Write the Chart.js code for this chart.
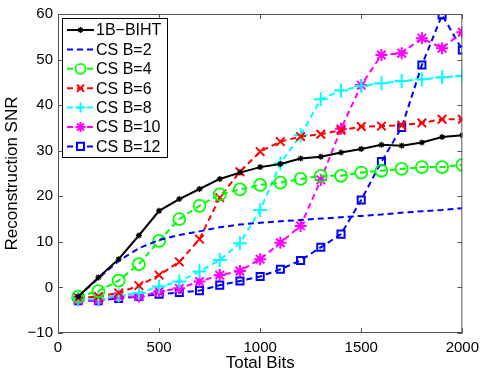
<!DOCTYPE html>
<html>
<head>
<meta charset="utf-8">
<script src="https://cdn.jsdelivr.net/npm/chart.js@4.4.0/dist/chart.umd.min.js"></script>
<style>
  html, body { margin: 0; padding: 0; background: #fff; }
  #wrap { width: 485px; height: 375px; }
</style>
</head>
<body>
<div id="wrap"><canvas id="myChart" width="485" height="375"></canvas></div>
<script>
const totalBits = [100, 200, 300, 400, 500, 600, 700, 800, 900, 1000, 1100, 1200, 1300, 1400, 1500, 1600, 1700, 1800, 1900, 2000];

const biht1b = [-2, 2.2, 6.2, 11.4, 16.8, 19.4, 21.6, 23.8, 25.2, 26.4, 27.1, 28.3, 28.7, 29.6, 30.4, 31.3, 31.1, 31.8, 33.0, 33.4];
const csB2 = [-2, 2, 5.8, 8.6, 10.4, 11.5, 12.3, 13.2, 13.8, 14.2, 14.5, 14.8, 15.1, 15.4, 15.7, 16.0, 16.4, 16.7, 17.0, 17.4];
const csB4 = [-2, -0.8, 1.5, 5.1, 10.2, 15.0, 17.9, 20.4, 21.5, 22.5, 23.0, 23.8, 24.5, 24.5, 25.2, 25.6, 26.0, 26.4, 26.4, 26.9];
const csB6 = [-2.3, -2.0, -1.2, 0.4, 2.7, 5.6, 10.6, 19.7, 25.4, 29.8, 32.0, 33.1, 33.6, 34.5, 35.3, 35.4, 35.6, 36.1, 36.9, 36.9];
const csB8 = [-2.5, -2.5, -1.7, -1.2, 0.2, 1.3, 3.5, 6.0, 9.7, 17.0, 27.2, 33.4, 41.3, 43.2, 44.2, 44.8, 45.3, 45.7, 46.1, 46.4];
const csB10 = [-2.8, -2.8, -2.0, -2.0, -0.9, -0.2, 1.3, 2.7, 3.6, 6.2, 9.8, 13.5, 23.6, 34.8, 44.4, 51.0, 51.4, 54.7, 52.5, 56.0];
const csB12 = [-2.9, -2.9, -2.4, -2.0, -1.5, -1.1, -0.7, 0.5, 1.4, 2.4, 4.0, 5.9, 8.8, 11.7, 19.2, 27.6, 35.1, 48.8, 59.8, 52.1];

const seriesNames = ["1B\u2212BIHT", "CS B=2", "CS B=4", "CS B=6", "CS B=8", "CS B=10", "CS B=12"];
const xTicks = [0, 500, 1000, 1500, 2000];
const yTicks = [-10, 0, 10, 20, 30, 40, 50, 60];

const FONT = "'Liberation Sans', Arial, sans-serif";
const dash = [6, 4];

const mk = (name, values, color, style, radius, dashed, width) => ({
    label: name,
    data: totalBits.map((x, i) => ({ x: x, y: values[i] })),
    borderColor: color,
    backgroundColor: color,
    borderWidth: 2,
    borderDash: dashed ? dash : [],
    pointStyle: style,
    pointRadius: radius,
    pointBorderColor: color,
    pointBackgroundColor: "rgba(0,0,0,0)",
    pointBorderWidth: width,
    tension: 0,
});

const datasets = [
    mk(seriesNames[0], biht1b, "#000000", "star", 3, false, 1.3),
    mk(seriesNames[1], csB2, "#0000ff", "circle", 0, true, 1),
    mk(seriesNames[2], csB4, "#00ff00", "circle", 6, true, 1.8),
    mk(seriesNames[3], csB6, "#ff0000", "crossRot", 6, true, 2),
    mk(seriesNames[4], csB8, "#00ffff", "cross", 7, true, 2),
    mk(seriesNames[5], csB10, "#ff00ff", "star", 6, true, 2),
    mk(seriesNames[6], csB12, "#0000ff", "rect", 5, true, 2),
];

// inward tick marks, box, and the legend drawn inside the plot
const matlabAxes = {
    id: "matlabAxes",
    afterDraw(chart) {
        const ctx = chart.ctx;
        const a = chart.chartArea;
        const xs = chart.scales.x, ys = chart.scales.y;
        ctx.save();
        ctx.strokeStyle = "#555";
        ctx.lineWidth = 1;
        ctx.strokeRect(a.left + 0.5, a.top + 0.5, a.right - a.left - 1, a.bottom - a.top - 1);
        ctx.beginPath();
        xTicks.forEach(v => {
            const px = Math.round(xs.getPixelForValue(v)) + 0.5;
            ctx.moveTo(px, a.bottom); ctx.lineTo(px, a.bottom - 5);
            ctx.moveTo(px, a.top); ctx.lineTo(px, a.top + 5);
        });
        yTicks.forEach(v => {
            const py = Math.round(ys.getPixelForValue(v)) + 0.5;
            ctx.moveTo(a.left, py); ctx.lineTo(a.left + 5, py);
            ctx.moveTo(a.right, py); ctx.lineTo(a.right - 5, py);
        });
        ctx.stroke();

        // legend
        const bx = 62.5, by = 18.5, bw = 105, bh = 139;
        ctx.fillStyle = "#fff";
        ctx.fillRect(bx, by, bw, bh);
        ctx.strokeStyle = "#000";
        ctx.strokeRect(bx, by, bw, bh);
        ctx.font = "16px " + FONT;
        ctx.textBaseline = "middle";
        chart.data.datasets.forEach((ds, i) => {
            const y = 30 + i * 19.4;
            ctx.strokeStyle = ds.borderColor;
            ctx.lineWidth = 2;
            ctx.setLineDash(ds.borderDash);
            ctx.beginPath();
            ctx.moveTo(67, y); ctx.lineTo(94, y);
            ctx.stroke();
            ctx.setLineDash([]);
            if (ds.pointRadius > 0) {
                ctx.strokeStyle = ds.borderColor;
                ctx.fillStyle = "#fff";
                ctx.lineWidth = ds.pointBorderWidth;
                Chart.helpers.drawPoint(ctx, {
                    pointStyle: ds.pointStyle,
                    radius: i === 0 ? ds.pointRadius : 5,
                    borderWidth: ds.pointBorderWidth,
                }, 80.5, y);
            }
            ctx.fillStyle = "#000";
            ctx.fillText(ds.label, 96, y + 1);
        });
        ctx.restore();
    }
};

const ctx = document.getElementById("myChart").getContext("2d");
const myChart = new Chart(ctx, {
    type: "line",
    data: { datasets: datasets },
    options: {
        responsive: false,
        animation: false,
        layout: { padding: { left: 2, right: 22, top: 14, bottom: 0 } },
        plugins: { legend: { display: false }, tooltip: { enabled: false } },
        scales: {
            x: {
                type: "linear",
                min: 0, max: 2000,
                afterBuildTicks: (s) => { s.ticks = xTicks.map(v => ({ value: v })); },
                afterFit: (s) => { s.height = 42; },
                grid: { display: false, drawTicks: false },
                border: { display: false },
                ticks: {
                    color: "#000", font: { family: FONT, size: 15 }, padding: 6,
                    maxRotation: 0,
                    callback: (v) => String(v),
                },
                title: { display: true, text: "Total Bits", color: "#000", font: { family: FONT, size: 17 }, padding: { top: 0, bottom: 1 } },
            },
            y: {
                min: -10, max: 60,
                afterBuildTicks: (s) => { s.ticks = yTicks.map(v => ({ value: v })); },
                afterFit: (s) => { s.width = 56; },
                grid: { display: false, drawTicks: false },
                border: { display: false },
                ticks: {
                    color: "#000", font: { family: FONT, size: 15 }, padding: 5,
                    callback: (v) => String(v).replace("-", "\u2212"),
                },
                title: { display: true, text: "Reconstruction SNR", color: "#000", font: { family: FONT, size: 17 }, padding: { top: 0, bottom: 0 } },
            },
        },
    },
    plugins: [matlabAxes],
});
</script>
</body>
</html>
